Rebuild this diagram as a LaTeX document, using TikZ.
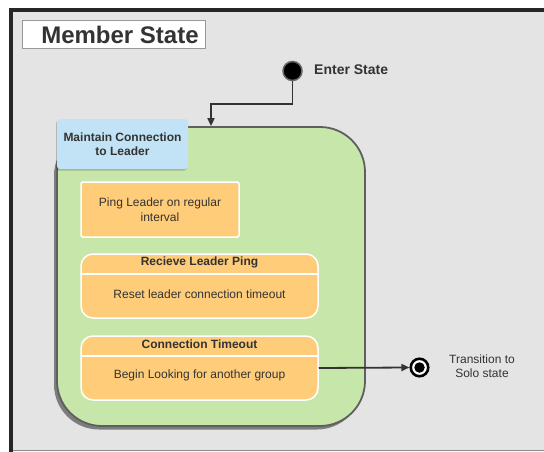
\documentclass[tikz,border=0pt]{standalone}
\usepackage{fontspec}
\setmainfont{Liberation Sans}
\usetikzlibrary{arrows.meta,shadows,calc}
\definecolor{bgray}{HTML}{E4E4E4}
\definecolor{txt}{HTML}{333333}
\definecolor{greenfill}{HTML}{C6E6AA}
\definecolor{greenline}{HTML}{5F5F5F}
\definecolor{bluefill}{HTML}{C1E3F5}
\definecolor{orangefill}{HTML}{FFCC79}
\tikzset{
  lbl/.style={text=txt, font=\fontsize{12}{14.5}\selectfont, align=center, inner sep=0pt},
  blbl/.style={lbl, font=\fontsize{12}{14.5}\selectfont\bfseries},
  actbox/.style={fill=orangefill, draw=white, line width=1.5pt, inner sep=0pt},
  arr/.style={draw=txt, line width=1.8pt, -{Triangle[width=7pt,length=8pt]}},
}
\begin{document}
\begin{tikzpicture}[x=1pt,y=-1pt]
\useasboundingbox (0,0) rectangle (544,452);
% frame
\fill[bgray] (11,10) rectangle (544,450);
\draw[black!45, line width=1pt] (11,450) -- (544,450);
\draw[black!85, line width=4pt] (11,452) -- (11,10.3) -- (544,10.3);
% title
\node[draw=black!40, fill=white, line width=1pt, minimum width=183pt, minimum height=28pt, inner sep=0pt] (title) at (113.5,35) {};
\node[text=txt, font=\fontsize{24}{26}\selectfont\bfseries, inner sep=0pt] (titletxt) at (120,35) {Member State};
% start
\node[circle, fill=black, draw=black!60, line width=1.5pt, minimum size=19pt, inner sep=0pt] (start) at (292.5,71) {};
\node[blbl, font=\fontsize{14}{16}\selectfont\bfseries, anchor=west] (enter) at (314,70) {Enter State};
% green composite state
\node[fill=greenfill, draw=greenline, line width=1.8pt, rounded corners=45pt,
      minimum width=308pt, minimum height=299pt, inner sep=0pt,
      drop shadow={shadow xshift=-3pt, shadow yshift=-3.5pt, opacity=0.45, fill=black}] (green) at (211,276.5) {};
% blue label
\node[fill=bluefill, rounded corners=3pt, minimum width=131pt, minimum height=50pt, inner sep=0pt,
      drop shadow={shadow xshift=-1pt, shadow yshift=-1.5pt, opacity=0.2, fill=black}] (blue) at (122.5,144) {};
\node[blbl] (bluetxt) at (blue.center) {Maintain Connection\\to Leader};
% ping
\node[actbox, rounded corners=2pt, minimum width=158pt, minimum height=55pt] (ping) at (160,209.5) {};
\node[lbl] (pingtxt) at (ping.center) {Ping Leader on regular\\interval};
% receive
\node[actbox, rounded corners=12pt, minimum width=237pt, minimum height=64pt] (recv) at (199.5,286) {};
\draw[white, line width=1.5pt] ([yshift=-20.5pt]recv.north west) -- ([yshift=-20.5pt]recv.north east);
\node[blbl] (recvt) at ([yshift=-9.5pt]recv.north) {Recieve Leader Ping};
\node[lbl] (recvb) at ([yshift=-40.5pt]recv.north) {Reset leader connection timeout};
% timeout
\node[actbox, rounded corners=12pt, minimum width=237pt, minimum height=64pt] (tout) at (199.5,368) {};
\draw[white, line width=1.5pt] ([yshift=-20.5pt]tout.north west) -- ([yshift=-20.5pt]tout.north east);
\node[blbl] (toutt) at ([yshift=-9pt]tout.north) {Connection Timeout};
\node[lbl] (toutb) at ([yshift=-40.5pt]tout.north) {Begin Looking for another group};
% end
\node[circle, fill=white, draw=black, line width=2.6pt, minimum size=17.5pt, inner sep=0pt] (end) at (419.5,367.5) {};
\node[circle, fill=black, minimum size=10.5pt, inner sep=0pt] (endin) at (end.center) {};
\node[lbl] (trans) at (482,366) {Transition to\\Solo state};
% connectors
\draw[arr] (start.south) -- ++(0,22.5) -| (green.north);
\draw[arr] (tout.east) -- (end.west);
\end{tikzpicture}
\end{document}
